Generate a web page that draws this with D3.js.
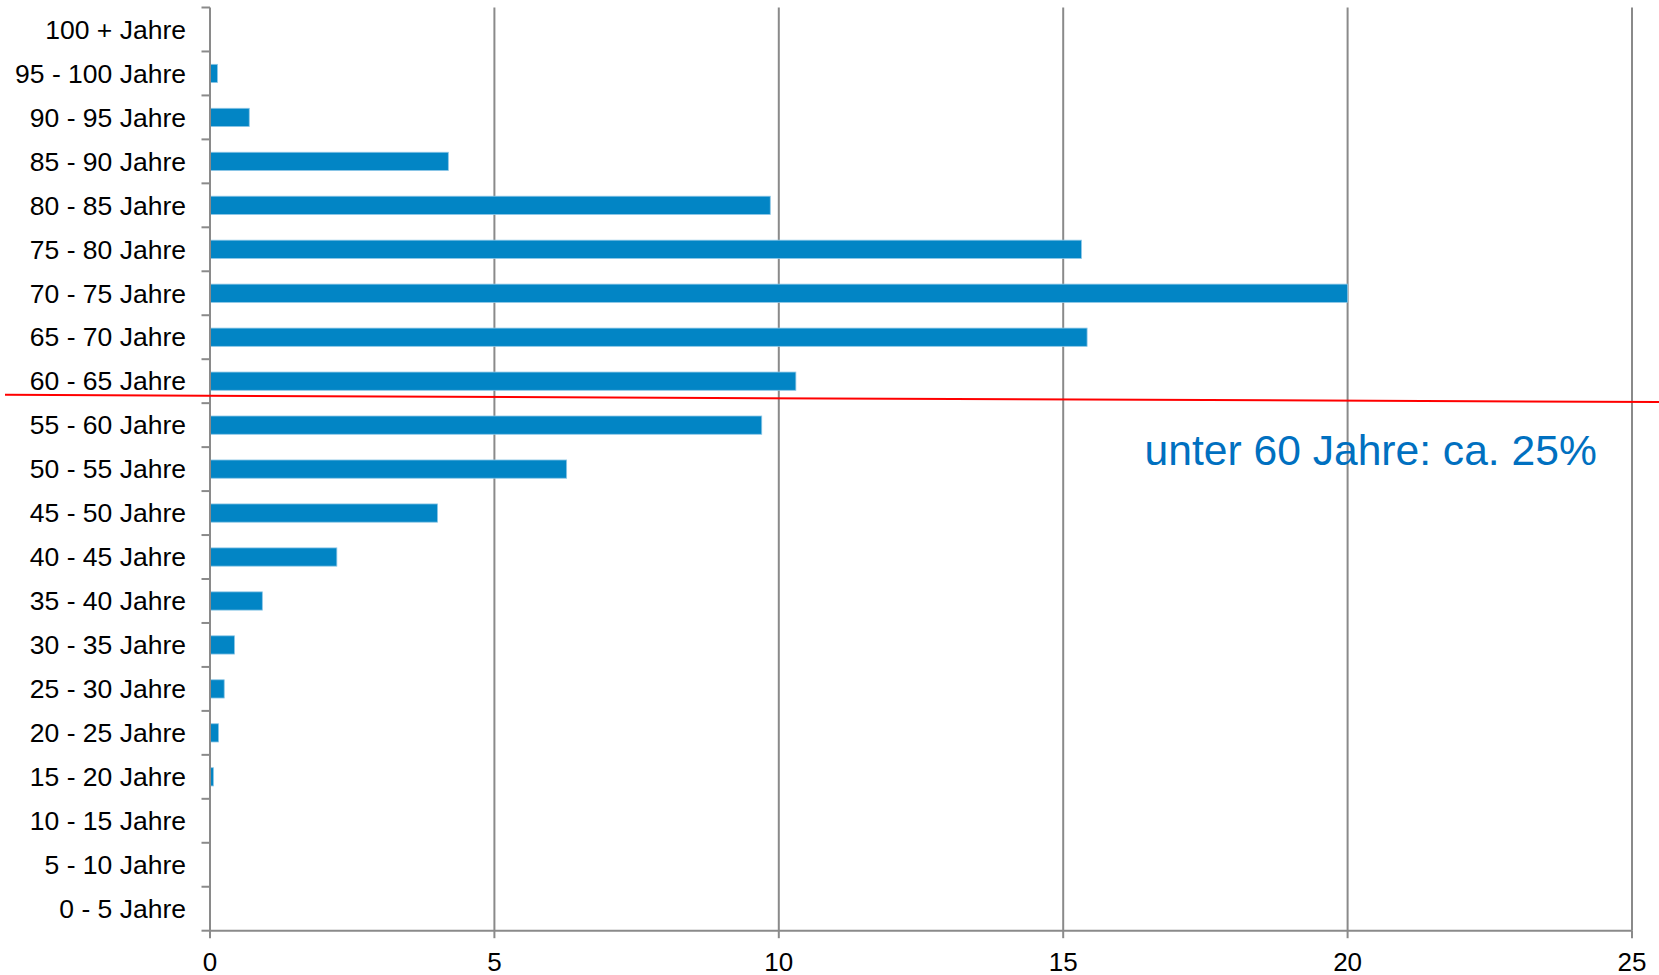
<!DOCTYPE html>
<html>
<head>
<meta charset="utf-8">
<script src="https://cdn.jsdelivr.net/npm/d3@7"></script>
<style>
  html, body { margin: 0; padding: 0; background: #fff; }
  svg { display: block; }
  text { font-family: "Liberation Sans", Arial, sans-serif; }
</style>
</head>
<body>
<svg id="chart" width="1659" height="975"></svg>
<script>
// Categories (top to bottom as displayed)
const categories = [
  "100 + Jahre", "95 - 100 Jahre", "90 - 95 Jahre", "85 - 90 Jahre",
  "80 - 85 Jahre", "75 - 80 Jahre", "70 - 75 Jahre", "65 - 70 Jahre",
  "60 - 65 Jahre", "55 - 60 Jahre", "50 - 55 Jahre", "45 - 50 Jahre",
  "40 - 45 Jahre", "35 - 40 Jahre", "30 - 35 Jahre", "25 - 30 Jahre",
  "20 - 25 Jahre", "15 - 20 Jahre", "10 - 15 Jahre", "5 - 10 Jahre",
  "0 - 5 Jahre"
];
// Share in percent
const values = [
  0, 0.13, 0.69, 4.19,
  9.85, 15.32, 20.0, 15.42,
  10.30, 9.70, 6.27, 4.00,
  2.23, 0.92, 0.43, 0.25,
  0.15, 0.06, 0, 0,
  0
];
const xTicks = [0, 5, 10, 15, 20, 25];
const annotationText = "unter 60 Jahre: ca. 25%";
const thresholdBelow = "55 - 60 Jahre";

(function () {
const svg = d3.select("#chart");
const mLeft = 210, mRight = 1632, mTop = 7.5, mBottom = 930.7;

const x = d3.scaleLinear().domain([0, 25]).range([mLeft, mRight]);
const yBand = d3.scaleBand().domain(categories).range([mTop, mBottom]).padding(0);
const yBar = d3.scaleBand().domain(categories).range([mTop, mBottom])
  .paddingInner(0.585).paddingOuter(0.2925);

const gray = "#8a8a8a";

// vertical gridlines
svg.append("g").selectAll("line").data(xTicks.filter(d => d > 0)).join("line")
  .attr("x1", d => x(d)).attr("x2", d => x(d))
  .attr("y1", mTop).attr("y2", mBottom)
  .attr("stroke", gray).attr("stroke-width", 2);

// bars
const data = categories.map((c, i) => ({ c, v: values[i] }));
svg.append("g").selectAll("rect").data(data.filter(d => d.v > 0)).join("rect")
  .attr("x", x(0))
  .attr("y", d => yBar(d.c))
  .attr("width", d => x(d.v) - x(0))
  .attr("height", yBar.bandwidth())
  .attr("fill", "#0285C5")
  .attr("stroke", "#8cc6e6")
  .attr("stroke-width", 0.8);

// y axis: line, ticks at band boundaries
const boundaries = categories.map(c => yBand(c)).concat([mBottom]);
svg.append("g").selectAll("line").data(boundaries).join("line")
  .attr("x1", mLeft - 8.5).attr("x2", mLeft)
  .attr("y1", d => d).attr("y2", d => d)
  .attr("stroke", gray).attr("stroke-width", 2);
svg.append("line")
  .attr("x1", mLeft).attr("x2", mLeft).attr("y1", mTop).attr("y2", mBottom)
  .attr("stroke", gray).attr("stroke-width", 2);

// y labels
svg.append("g").selectAll("text").data(categories).join("text")
  .attr("x", mLeft - 24)
  .attr("y", d => yBand(d) + yBand.bandwidth() / 2)
  .attr("dy", "0.35em")
  .attr("text-anchor", "end")
  .attr("font-size", 26.5)
  .attr("fill", "#000")
  .text(d => d);

// x axis line and ticks
svg.append("line")
  .attr("x1", mLeft).attr("x2", mRight).attr("y1", mBottom).attr("y2", mBottom)
  .attr("stroke", gray).attr("stroke-width", 2);
svg.append("g").selectAll("line").data(xTicks).join("line")
  .attr("x1", d => x(d)).attr("x2", d => x(d))
  .attr("y1", mBottom).attr("y2", mBottom + 7.5)
  .attr("stroke", gray).attr("stroke-width", 2);
svg.append("g").selectAll("text").data(xTicks).join("text")
  .attr("x", d => x(d))
  .attr("y", 970.5)
  .attr("text-anchor", "middle")
  .attr("font-size", 26)
  .attr("fill", "#000")
  .text(d => d);

// red threshold line (slightly tilted, between 60-65 and 55-60)
const yThr = yBand(thresholdBelow);
svg.append("line")
  .attr("x1", 5).attr("x2", 1659)
  .attr("y1", yThr - 8.3).attr("y2", yThr - 1.1)
  .attr("stroke", "#ff0000").attr("stroke-width", 2);

// annotation
svg.append("text")
  .attr("x", x(16.43))
  .attr("y", yBand(categories[10]) + yBand.bandwidth() / 2 - 4)
  .attr("font-size", 42.6)
  .attr("fill", "#0070C0")
  .text(annotationText);
})();
</script>
</body>
</html>
